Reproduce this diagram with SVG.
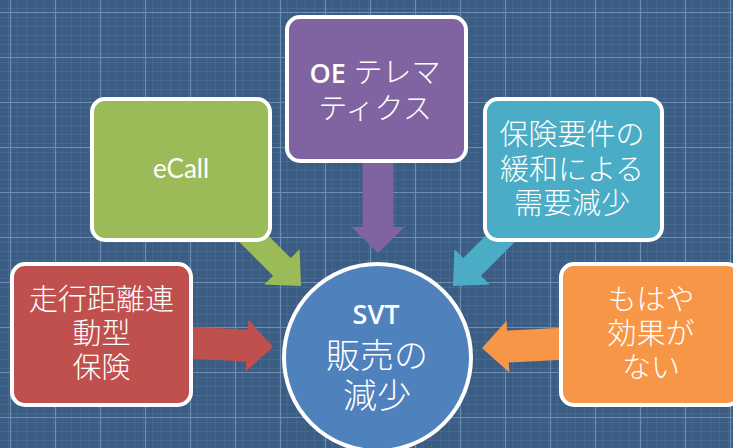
<svg xmlns="http://www.w3.org/2000/svg" width="733" height="448" viewBox="0 0 733 448">
  <defs>
    <pattern id="minor" width="9" height="9" patternUnits="userSpaceOnUse">
      <path d="M9 0V9M0 9H9" fill="none" stroke="#6f93bb" stroke-width="1" stroke-opacity="0.35"/>
    </pattern>
    <pattern id="major" x="10" y="12" width="45" height="45" patternUnits="userSpaceOnUse">
      <path d="M0.5 0V45M0 0.5H45" fill="none" stroke="#9cc0e2" stroke-width="1.2" stroke-opacity="0.5"/>
    </pattern>
  </defs>
  <style>
    .box{stroke:#ffffff;stroke-width:4}
    .t{fill:#ffffff;font-family:Lato,"Noto Sans CJK JP","Noto Sans",sans-serif;text-anchor:middle;font-size:29px;font-weight:300}
    .t.lat{font-family:"Open Sans",Lato,sans-serif;font-size:27px;font-weight:600}
    .t.ec{font-size:26px;font-weight:400}
  </style>
  <rect width="733" height="448" fill="#3c5d83"/>
  <rect width="733" height="448" fill="url(#minor)"/>
  <rect width="733" height="448" fill="url(#major)"/>

  <g id="connectors">
    <path transform="translate(273,347) rotate(3)" d="M-100,-16H-26V-26L0,0L-26,26V16H-100Z" fill="#c0504d"/>
    <path transform="translate(301,286) rotate(45)" d="M-90,-12.5H-27V-25L0,0L-27,25V12.5H-90Z" fill="#9bbb59"/>
    <path transform="translate(378,253) rotate(90)" d="M-100,-15.5H-26V-26.5L0,0L-26,26.5V15.5H-100Z" fill="#8064a2"/>
    <path transform="translate(453,286) rotate(135)" d="M-90,-12.5H-27V-25L0,0L-27,25V12.5H-90Z" fill="#4bacc6"/>
    <path transform="translate(482,348) rotate(177)" d="M-100,-16H-26V-26L0,0L-26,26V16H-100Z" fill="#f79646"/>
  </g>

  <g id="node-red">
    <rect class="box" x="12" y="264" width="179" height="141" rx="13" fill="#c0504d"/>
    <text class="t" x="101.5" y="310">走行距離連</text>
    <text class="t" x="101.5" y="344">動型</text>
    <text class="t" x="101.5" y="378">保険</text>
  </g>
  <g id="node-green">
    <rect class="box" x="92" y="99" width="178" height="141" rx="13" fill="#9bbb59"/>
    <text class="t ec" x="181" y="178">eCall</text>
  </g>
  <g id="node-purple">
    <rect class="box" x="287" y="17" width="179" height="144" rx="13" fill="#8064a2"/>
    <text class="t" x="375" y="83"><tspan class="t lat">OE</tspan> テレマ</text>
    <text class="t" x="375" y="119">ティクス</text>
  </g>
  <g id="node-cyan">
    <rect class="box" x="485" y="99" width="177" height="141" rx="13" fill="#4bacc6"/>
    <text class="t" x="572" y="145">保険要件の</text>
    <text class="t" x="572" y="180">緩和による</text>
    <text class="t" x="572" y="214">需要減少</text>
  </g>
  <g id="node-orange">
    <rect class="box" x="561" y="264" width="179" height="141" rx="13" fill="#f79646"/>
    <text class="t" x="651" y="310">もはや</text>
    <text class="t" x="651" y="344">効果が</text>
    <text class="t" x="651" y="378">ない</text>
  </g>
  <g id="node-center">
    <circle class="box" cx="377.5" cy="357.5" r="93.5" fill="#4f81bd"/>
    <text class="t lat" x="376" y="324">SVT</text>
    <text class="t" x="377" y="368" style="font-size:34px">販売の</text>
    <text class="t" x="377" y="408" style="font-size:34px">減少</text>
  </g>
</svg>
